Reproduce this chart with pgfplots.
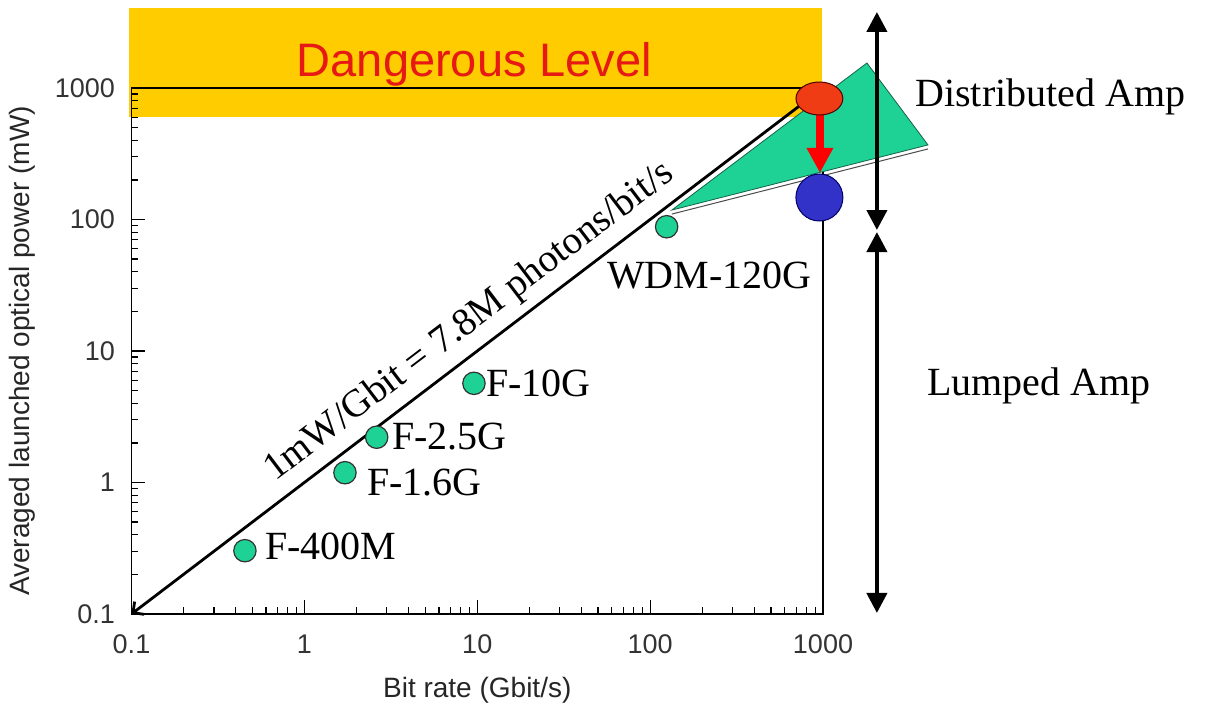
\documentclass[border=0pt]{standalone}
\usepackage{pgfplots}
\pgfplotsset{compat=1.18}
\usepackage{fontspec}
\setmainfont{Liberation Sans}
\newfontfamily\timesf{Liberation Serif}
\usetikzlibrary{arrows.meta}
\definecolor{dangeryellow}{RGB}{255,204,0}
\definecolor{mint}{RGB}{30,210,150}
\definecolor{mintedge}{RGB}{20,100,70}
\definecolor{redorange}{RGB}{240,60,20}
\definecolor{bluec}{RGB}{50,50,200}
\definecolor{dangerred}{RGB}{230,25,20}
\begin{document}
\begin{tikzpicture}
\begin{axis}[
  name=ax, set layers, clip=false,
  xmode=log, ymode=log,
  scale only axis, width=345.75pt, height=263pt,
  xmin=0.1, xmax=1000, ymin=0.1, ymax=1000,
  xtick={0.1,1,10,100,1000}, xticklabels={0.1,1,10,100,1000},
  ytick={0.1,1,10,100,1000}, yticklabels={0.1,1,10,100,1000},
  minor xtick={0.2,0.3,0.4,0.5,0.6,0.7,0.8,0.9,2,3,4,5,6,7,8,9,20,30,40,50,60,70,80,90,200,300,400,500,600,700,800,900},
  minor ytick={0.2,0.3,0.4,0.5,0.6,0.7,0.8,0.9,2,3,4,5,6,7,8,9,20,30,40,50,60,70,80,90,200,300,400,500,600,700,800,900},
  tick pos=left, tick align=inside,
  major tick length=7pt, minor tick length=3.5pt,
  axis line style={line width=0.6pt},
  every tick/.style={black, line width=0.6pt},
  ticklabel style={font=\fontsize{13.5}{16}\selectfont, text=black!80},
  xticklabel style={yshift=-7pt},
  yticklabel style={xshift=-4.75pt},
  xlabel={Bit rate (Gbit/s)},
  ylabel={Averaged launched optical power (mW)},
  label style={font=\fontsize{14}{17}\selectfont, text=black!85},
  xlabel style={at={(axis description cs:0.5,-0.1445)}, anchor=center},
  ylabel style={at={(axis description cs:-0.158,0.5)}, anchor=center},
]
% dangerous level band
\addplot[on layer=axis background, fill=dangeryellow, draw=none] coordinates {(0.097,601) (990,601) (990,4055) (0.097,4055)} -- cycle;
% green wedge with shadow edge
\addplot[draw=gray!60!black, line width=0.5pt] coordinates {(133.6,110) (4047,344)};
\addplot[fill=mint, draw=mintedge, line width=0.4pt] coordinates {(133.6,118) (1795,1549) (4047,369)} -- cycle;
% 1 mW/Gbit line
\addplot[black, line width=1.4pt, {Straight Barb[length=4pt,width=8pt]}-] coordinates {(0.1,0.1) (900,900)};
% systems
\addplot[only marks, mark=*, mark size=5.6pt, mark options={fill=mint, draw=black!80, line width=0.6pt}] coordinates {(0.453,0.303) (1.717,1.187) (2.62,2.21) (9.57,5.68) (124.6,88.1)};
% red ellipse
\addplot[only marks, mark=*, mark size=8.25pt, mark options={xscale=1.42, fill=redorange, draw=black!70!red, line width=0.5pt}] coordinates {(953,832)};
% red arrow
\addplot[red, line width=4pt, -{Triangle[width=12.5pt,length=12.5pt]}] coordinates {(960,624) (960,226)};
% blue circle
\addplot[only marks, mark=*, mark size=11.75pt, mark options={fill=bluec, draw=black!60!blue, line width=0.5pt}] coordinates {(953,147)};
% black range arrows
\addplot[black, line width=2pt, {Triangle[width=10pt,length=10pt]}-{Triangle[width=10pt,length=10pt]}] coordinates {(2050,3786) (2050,83.2)};
\addplot[black, line width=2pt, {Triangle[width=10pt,length=10pt]}-{Triangle[width=10pt,length=10pt]}] coordinates {(2050,80.3) (2050,0.1018)};
% texts
\node[anchor=base, inner sep=0pt, font=\fontsize{23.5}{28}\selectfont, text=dangerred] at (rel axis cs:0.496,1.021) {Dangerous Level};
\node[anchor=base west, inner sep=0pt, font=\timesf\fontsize{20}{24}\selectfont] at (rel axis cs:1.133,0.964) {Distributed Amp};
\node[anchor=base west, inner sep=0pt, font=\timesf\fontsize{20}{24}\selectfont] at (rel axis cs:1.150,0.4163) {Lumped Amp};
\node[anchor=base, inner sep=0pt, rotate=37.25, font=\timesf\fontsize{19.5}{23}\selectfont] at (axis cs:9.77,14.53) {1mW/Gbit = 7.8M photons/bit/s};
\node[anchor=base west, inner sep=0pt, xshift=10pt, yshift=-4.65pt, font=\timesf\fontsize{20}{24}\selectfont] at (axis cs:0.453,0.303) {F-400M};
\node[anchor=base west, inner sep=0pt, xshift=10.85pt, yshift=-11.15pt, font=\timesf\fontsize{20}{24}\selectfont] at (axis cs:1.717,1.187) {F-1.6G};
\node[anchor=base west, inner sep=0pt, xshift=7.5pt, yshift=-6.35pt, font=\timesf\fontsize{20}{24}\selectfont] at (axis cs:2.62,2.21) {F-2.5G};
\node[anchor=base west, inner sep=0pt, xshift=6pt, yshift=-6.7pt, font=\timesf\fontsize{20}{24}\selectfont] at (axis cs:9.57,5.68) {F-10G};
\node[anchor=base west, inner sep=0pt, xshift=-30pt, yshift=-30.65pt, font=\timesf\fontsize{20}{24}\selectfont] at (axis cs:124.6,88.1) {WDM-120G};
\end{axis}
\pgfresetboundingbox
\path[use as bounding box] ([shift={(-65.75pt,-47pt)}]ax.south west) rectangle ([shift={(536.75pt,307pt)}]ax.south west);
\end{tikzpicture}
\end{document}
